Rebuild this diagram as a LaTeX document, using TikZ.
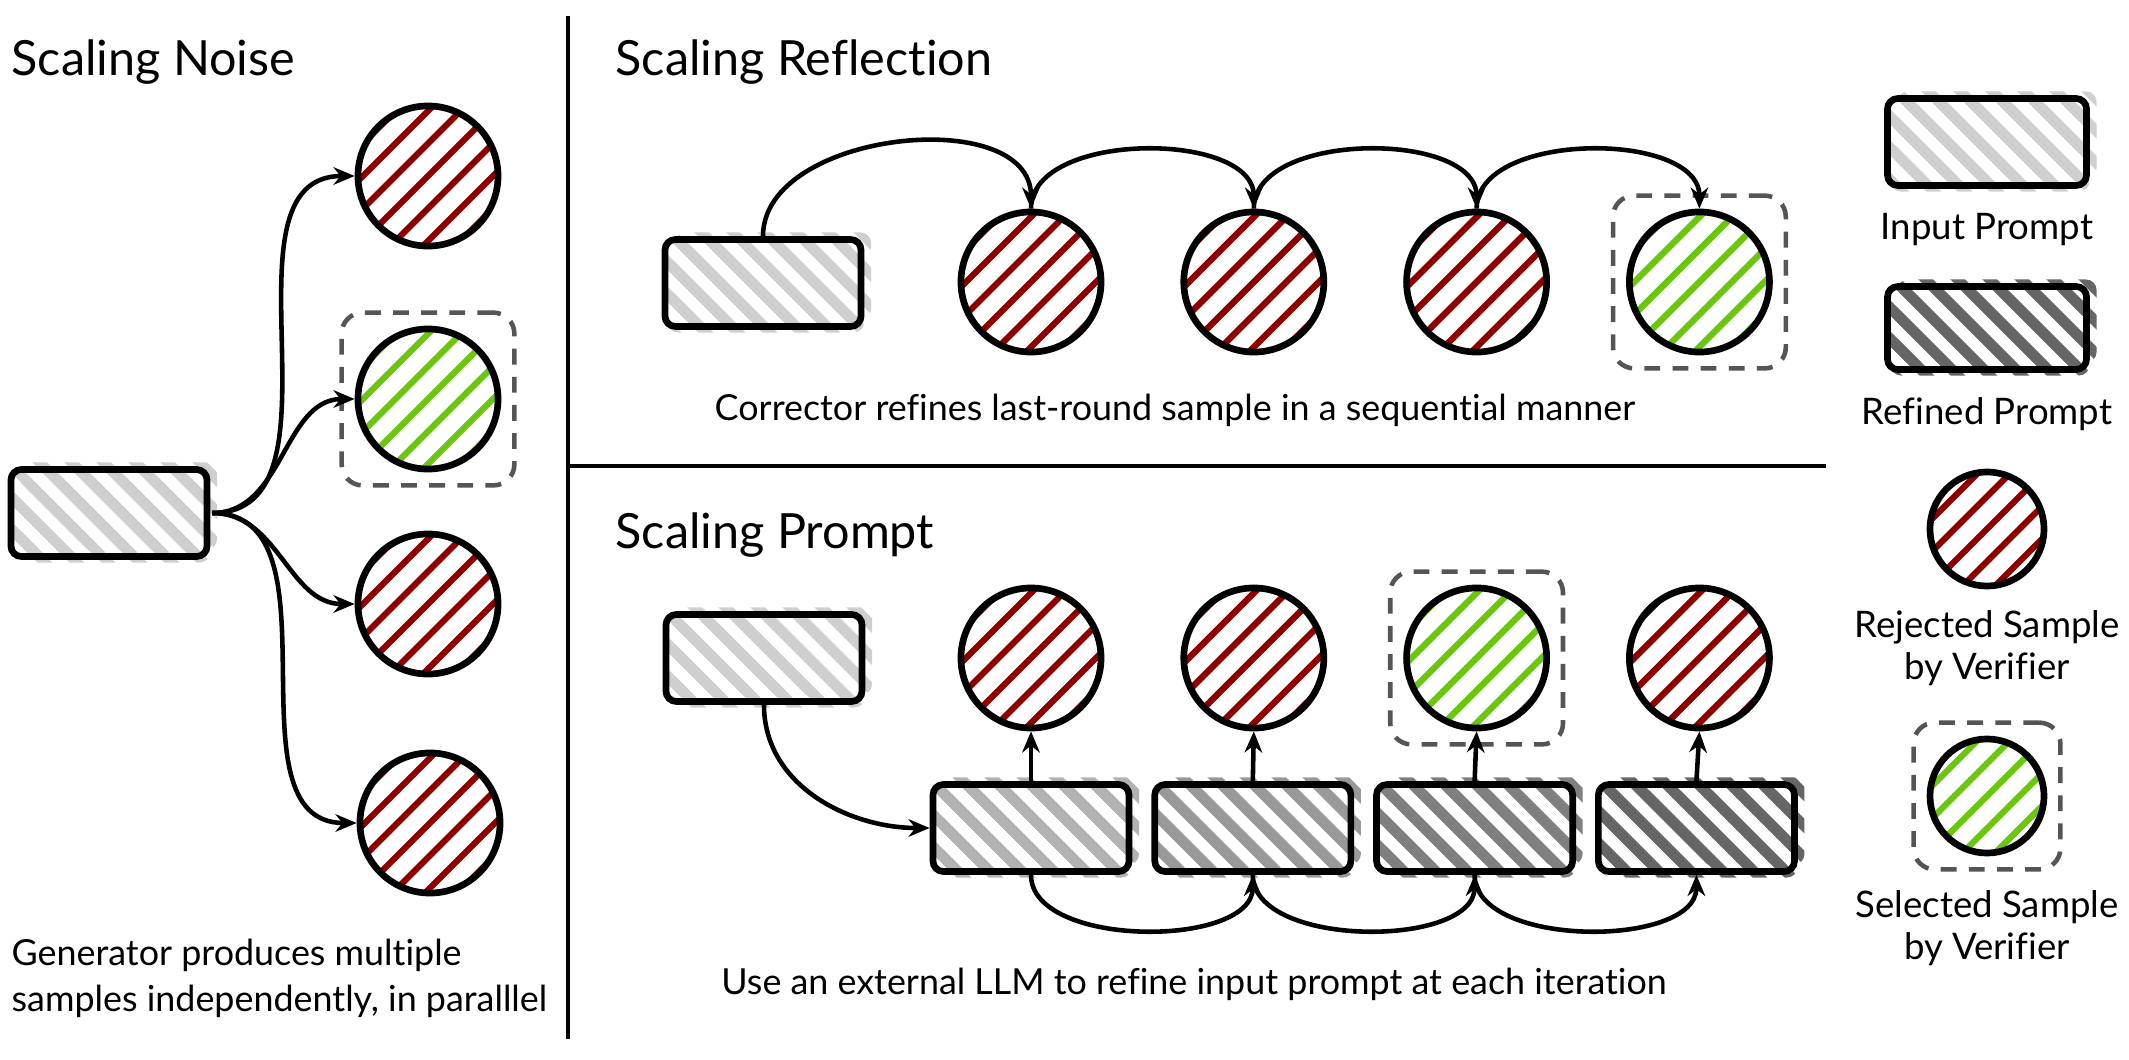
\documentclass[tikz,border=0pt]{standalone}
\usepackage{fontspec}
\setmainfont{Lato}[Ligatures=NoCommon]
\usetikzlibrary{arrows.meta, positioning, fit, patterns.meta}
\definecolor{myred}{HTML}{8E0000}
\definecolor{mygreen}{HTML}{6BC70D}
\definecolor{inputgray}{HTML}{CFCFCF}
\definecolor{refgrayA}{HTML}{B3B3B3}
\definecolor{refgrayB}{HTML}{999999}
\definecolor{refgrayC}{HTML}{808080}
\definecolor{refgrayD}{HTML}{666666}
\definecolor{dashgray}{HTML}{555555}
\begin{document}
\begin{tikzpicture}[
  x=0.01cm, y=0.01cm,
  node distance=0.76cm,
  title/.style={anchor=base west, inner sep=0pt, font=\fontsize{13.8}{16}\selectfont},
  caption/.style={font=\fontsize{10.2}{13}\selectfont, align=center},
  legend/.style={font=\fontsize{10.4}{12}\selectfont, align=center},
  promptbox/.style={rectangle, rounded corners=3pt, draw, line width=1.9pt, minimum width=1.96cm, minimum height=0.87cm, inner sep=0pt,
    pattern={Lines[angle=-45, distance=6.4pt, line width=3pt]}, pattern color=#1,
    preaction={pattern={Lines[angle=-45, distance=6.4pt, line width=3pt]}, pattern color=#1, transform canvas={shift={(10,7)}}},
    preaction={pattern={Lines[angle=-45, distance=6.4pt, line width=3pt]}, pattern color=#1, transform canvas={shift={(3,-6)}}}},
  sample/.style={circle, draw, line width=1.9pt, minimum size=1.4cm, inner sep=0pt,
    path picture={
      \foreach \k in {-4,...,4}
        \draw[#1, line width=1.8pt, shift={(path picture bounding box.center)}]
          (\k*32.5-110,-110) -- (\k*32.5+110,110);
    }},
  chosen/.style={draw=dashgray, line width=1.3pt, dash pattern=on 4.5pt off 3.5pt, rounded corners=6pt, inner sep=0.13cm},
  arr/.style={-{Stealth[length=6pt, width=5pt]}, line width=1.3pt},
  divider/.style={line width=1.1pt},
]
\useasboundingbox (0,0) rectangle (2129,1059);

%% Scaling Noise
\node[title] at (11,984) {Scaling Noise};
\node[promptbox=inputgray] (nin) at (109,546) {};
\node[sample=myred] (n1) at (428,883) {};
\node[sample=mygreen] (n2) at (428,660) {};
\node[sample=myred] (n3) at (428,455) {};
\node[sample=myred] (n4) at (430,236) {};
\node[chosen, fit=(n2)] (n2box) {};
\node[caption, align=left, anchor=west, inner xsep=0pt] (ncap) at (11,81) {Generator produces multiple\\samples independently, in paralllel};

\foreach \c in {n1,n2,n3,n4}
  \draw[arr] (nin.east) to[out=0, in=180] (\c.west);

%% Dividers
\draw[divider] (568,1043) -- (568,20);
\draw[divider] (568,593) -- (1826,593);

%% Scaling Reflection
\node[title] at (615,984) {Scaling Reflection};
\node[promptbox=inputgray] (rin) at (763,776) {};
\node[sample=myred] (r1) at (1031,777) {};
\node[sample=myred, right=of r1] (r2) {};
\node[sample=myred, right=of r2] (r3) {};
\node[sample=mygreen, right=of r3] (r4) {};
\node[chosen, fit=(r4)] (r4box) {};
\node[caption] (rcap) at (1175,649) {Corrector refines last-round sample in a sequential manner};

\draw[arr] (rin.north) to[out=90, in=90] (r1.north);
\foreach \i/\j in {1/2,2/3,3/4}
  \draw[arr] (r\i.north) to[out=90, in=90, looseness=0.9] (r\j.north);

%% Scaling Prompt
\node[title] at (615,511) {Scaling Prompt};
\node[promptbox=inputgray] (pin) at (764,401) {};
\node[sample=myred] (p1) at (1031,401) {};
\node[sample=myred, right=of p1] (p2) {};
\node[sample=mygreen, right=of p2] (p3) {};
\node[sample=myred, right=of p3] (p4) {};
\node[chosen, fit=(p3)] (p3box) {};
\node[promptbox=refgrayA] (q1) at (1031,231) {};
\node[promptbox=refgrayB, right=0.19cm of q1] (q2) {};
\node[promptbox=refgrayC, right=0.19cm of q2] (q3) {};
\node[promptbox=refgrayD, right=0.19cm of q3] (q4) {};
\node[caption] (pcap) at (1194,75) {Use an external LLM to refine input prompt at each iteration};

\draw[arr] (pin.south) to[out=-90, in=180] (q1.west);
\foreach \i in {1,...,4}
  \draw[arr] (q\i.north) -- (p\i.south);
\foreach \i/\j in {1/2,2/3,3/4}
  \draw[arr] (q\i.south) to[out=-90, in=-90, looseness=0.85] (q\j.south);

%% Legend
\node[promptbox=inputgray, minimum width=1.99cm] (lin) at (1987,917) {};
\node[legend] (linlab) at (1987,829) {Input Prompt};
\node[promptbox=refgrayD, minimum width=1.99cm, minimum height=0.83cm] (lref) at (1987,731) {};
\node[legend] (lreflab) at (1987,645) {Refined Prompt};
\node[sample=myred, minimum size=1.14cm] (lrej) at (1987,530) {};
\node[legend] (lrejlab) at (1987,411) {Rejected Sample\\by Verifier};
\node[sample=mygreen, minimum size=1.14cm] (lsel) at (1987,263) {};
\node[chosen, fit=(lsel)] (lselbox) {};
\node[legend] (lsellab) at (1987,131) {Selected Sample\\by Verifier};

\end{tikzpicture}
\end{document}
